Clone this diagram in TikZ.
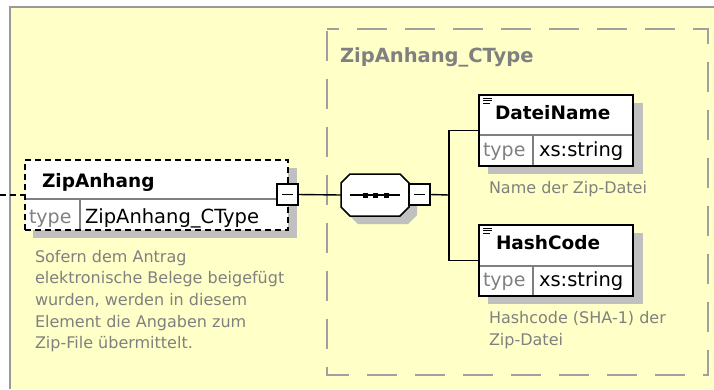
\documentclass[tikz,border=0pt]{standalone}
\usepackage{fontspec}
\setmainfont{DejaVu Sans}
\usetikzlibrary{calc}
\definecolor{bgyellow}{HTML}{FFFFC8}
\definecolor{framegray}{HTML}{999999}
\definecolor{shadowgray}{HTML}{C0C0C0}
\definecolor{descgray}{HTML}{808080}
\definecolor{grpgray}{HTML}{A0A0A0}
\begin{document}
\begin{tikzpicture}[x=1pt,y=-1pt,
  txt/.style={inner sep=0pt, outer sep=0pt, anchor=base west},
  ttl/.style={txt, font=\fontsize{18.5pt}{22pt}\selectfont\bfseries},
  grpttl/.style={txt, text=descgray, font=\fontsize{19.5pt}{22pt}\selectfont\bfseries},
  typelbl/.style={txt, text=descgray, font=\fontsize{19pt}{22pt}\selectfont},
  typeval/.style={txt, font=\fontsize{19.5pt}{22pt}\selectfont},
  desctxt/.style={txt, text=descgray, font=\fontsize{16pt}{20pt}\selectfont},
  elembox/.style={draw=black, line width=1.8pt, fill=white, inner sep=0pt, outer sep=0pt},
  dashbox/.style={elembox, dash pattern=on 6pt off 4pt},
  sepline/.style={draw=descgray, line width=1.2pt},
  minusbox/.style={draw=black, line width=1.5pt, fill=white, minimum size=21pt, inner sep=0pt, outer sep=0pt,
    path picture={\draw[line width=1.3pt] ([xshift=5pt]path picture bounding box.west) -- ([xshift=-5pt]path picture bounding box.east);}},
  conn/.style={draw=black, line width=1.4pt},
  dashconn/.style={conn, dash pattern=on 6pt off 4pt},
  grpbox/.style={draw=grpgray, line width=2pt, dash pattern=on 30pt off 18pt, dash phase=-2pt},
  shadow/.style={fill=shadowgray},
  iconline/.style={draw=black, line width=1pt}
]
\useasboundingbox (0,0) rectangle (714,389);
\fill[white] (0,0) rectangle (714,389);
\fill[bgyellow] (10,7) rectangle (714,389);
\draw[framegray, line width=2pt] (10,389) -- (10,7) -- (714,7);

% group box
\draw[grpbox] (327,29) rectangle (708,375);
\node[grpttl] (gt) at (340,62) {ZipAnhang\_CType};

% ZipAnhang element
\fill[shadow] (33,168) rectangle (297,238);
\node[dashbox, minimum width=263pt, minimum height=70pt] (zip) at (156.5,195) {};
\draw[sepline] (26,199) -- (287,199);
\draw[sepline] (80,199) -- (80,229);
\node[ttl] (zipt) at (42,187) {ZipAnhang};
\node[typelbl] (zipl) at (29,223) {type};
\node[typeval] (zipv) at (85,223) {ZipAnhang\_CType};
\node[minusbox] (zipm) at (287.5,194.5) {};
\coordinate (lin) at (0,195);
\draw[dashconn] (lin) -- (zip.west |- lin);

\node[desctxt] (zd1) at (35,262) {Sofern dem Antrag};
\node[desctxt] (zd2) at (35,283.7) {elektronische Belege beigefügt};
\node[desctxt] (zd3) at (35,305.4) {wurden, werden in diesem};
\node[desctxt] (zd4) at (35,327) {Element die Angaben zum};
\node[desctxt] (zd5) at (35,348.8) {Zip-File übermittelt.};

% sequence compositor
\fill[shadow] (358,182) -- (408,182) -- (417,191) -- (417,215) -- (408,224) -- (358,224) -- (349,215) -- (349,191) -- cycle;
\draw[black, line width=1.5pt, fill=white] (350,174) -- (400,174) -- (409,183) -- (409,207) -- (400,216) -- (350,216) -- (341,207) -- (341,183) -- cycle;
\node[minimum width=68pt, minimum height=42pt, inner sep=0pt, outer sep=0pt] (seq) at (375,195) {};
\draw[line width=1.3pt] (350,195) -- (400,195);
\fill (362.5,192.5) rectangle (367.5,197.5);
\fill (373,192.5) rectangle (378,197.5);
\fill (383.5,192.5) rectangle (388.5,197.5);
\node[minusbox] (seqm) at (419.5,194.5) {};
\draw[conn] (zipm.east) -- (seq.west);

% DateiName element
\fill[shadow] (488,103) rectangle (643,174);
\node[elembox, minimum width=154pt, minimum height=71pt] (dn) at (556,130.5) {};
\draw[sepline] (480,135) -- (632,135);
\draw[sepline] (533,135) -- (533,165);
\draw[iconline] (483,98) -- (492,98);
\draw[iconline] (483,100.5) -- (492,100.5);
\draw[iconline] (483,103) -- (490,103);
\node[ttl] (dnt) at (495,119) {DateiName};
\node[typelbl] (dnl) at (483,156) {type};
\node[typeval] (dnv) at (539,156) {xs:string};
\node[desctxt] (dnd) at (489,193) {Name der Zip-Datei};

% HashCode element
\fill[shadow] (488,233) rectangle (643,304);
\node[elembox, minimum width=154pt, minimum height=71pt] (hc) at (556,260.5) {};
\draw[sepline] (480,266) -- (632,266);
\draw[sepline] (533,266) -- (533,295);
\draw[iconline] (483,228) -- (492,228);
\draw[iconline] (483,230.5) -- (492,230.5);
\draw[iconline] (483,233) -- (490,233);
\node[ttl] (hct) at (496,249) {HashCode};
\node[typelbl] (hcl) at (483,286) {type};
\node[typeval] (hcv) at (539,286) {xs:string};
\node[desctxt] (hcd1) at (489,323) {Hashcode (SHA-1) der};
\node[desctxt] (hcd2) at (489,345) {Zip-Datei};

% connectors
\coordinate (br) at (449,195);
\draw[conn] (seqm.east) -- (br);
\draw[conn] (dn.west) -| (br) |- (hc.west);
\end{tikzpicture}
\end{document}
